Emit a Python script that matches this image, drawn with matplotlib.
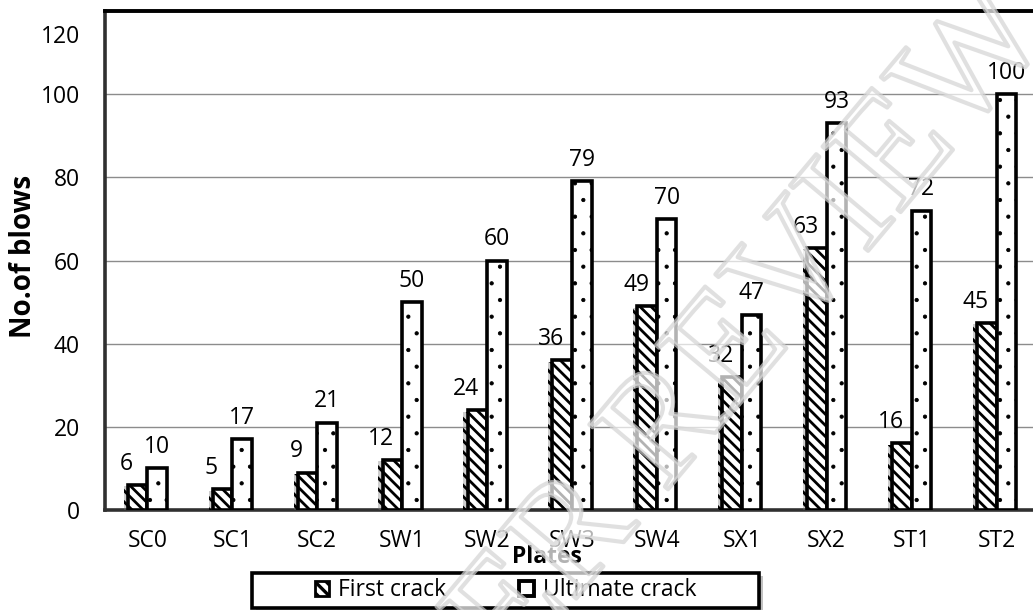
import matplotlib
matplotlib.use("Agg")
import matplotlib.pyplot as plt
import matplotlib.patheffects as pe
from matplotlib.patches import Rectangle, Patch
import matplotlib.transforms as mtransforms
import numpy as np

categories = ["SC0", "SC1", "SC2", "SW1", "SW2", "SW3", "SW4", "SX1", "SX2", "ST1", "ST2"]
first_crack = [6, 5, 9, 12, 24, 36, 49, 32, 63, 16, 45]
ultimate_crack = [10, 17, 21, 50, 60, 79, 70, 47, 93, 72, 100]
yticks = [0, 20, 40, 60, 80, 100, 120]

plt.rcParams['font.family'] = ['Open Sans', 'DejaVu Sans']
FS = 16.5

W, H = 1033, 610
fig = plt.figure(figsize=(W / 100, H / 100), dpi=100)
ax = fig.add_axes([105 / W, 1 - 510 / H, (1039 - 105) / W, (510 - 11) / H])

x = np.arange(len(categories))
bw = 0.23

shadow = [pe.SimplePatchShadow(offset=(-3, -1), shadow_rgbFace='0.45', alpha=0.35), pe.Normal()]

plt.rcParams['hatch.linewidth'] = 2.0
b1 = ax.bar(x - bw / 2, first_crack, bw, facecolor='white', edgecolor='black',
            hatch='\\\\\\', linewidth=2.6, zorder=3, label='First crack')
for p in b1:
    p.set_path_effects(shadow)

plt.rcParams['hatch.linewidth'] = 0.6
b2 = ax.bar(x + bw / 2, ultimate_crack, bw, facecolor='white', edgecolor='black',
            hatch='.', linewidth=2.6, zorder=3, label='Ultimate crack')

for xi, v in zip(x, first_crack):
    ax.annotate(str(v), xy=(xi - bw / 2, v), xytext=(-8, 11), textcoords='offset points',
                ha='center', va='baseline', fontsize=FS, zorder=5)
for xi, v in zip(x, ultimate_crack):
    ax.annotate(str(v), xy=(xi + bw / 2, v), xytext=(0, 11), textcoords='offset points',
                ha='center', va='baseline', fontsize=FS, zorder=5)

ax.set_xlim(-0.5, 10.5)
ax.set_ylim(0, 120)
ax.set_xticks(x)
ax.set_xticklabels(categories, fontsize=FS)
ax.set_yticks(yticks[:-1])
ax.set_yticklabels([str(t) for t in yticks[:-1]], fontsize=FS)
ax.tick_params(axis='both', length=0)
ax.tick_params(axis='x', pad=14)
ax.tick_params(axis='y', pad=18)
for t in yticks[1:-1]:
    ax.axhline(t, color='#8c8c8c', linewidth=1.0, zorder=1)

# top tick label (drawn slightly lower as in the reference)
off = mtransforms.offset_copy(ax.get_yaxis_transform(), fig=fig, x=-25, y=-26, units='dots')
ax.text(0, yticks[-1], str(yticks[-1]), transform=off, ha='right', va='center', fontsize=FS)

ax.spines['top'].set_linewidth(2.8)
ax.spines['top'].set_color('black')
ax.spines['left'].set_linewidth(2.6)
ax.spines['left'].set_color('#303030')
ax.spines['bottom'].set_linewidth(2.6)
ax.spines['bottom'].set_color('#303030')
ax.spines['right'].set_visible(False)

fig.text(24 / W, 1 - 256 / H, 'No.of blows', rotation=90, ha='center', va='center',
         fontsize=20, fontweight='bold')
fig.text(547 / W, 1 - 557 / H, 'Plates', ha='center', va='center', fontsize=FS, fontweight='bold')

# legend box
rect = Rectangle((252 / W, 1 - 608 / H), (759 - 252) / W, (608 - 573) / H,
                 transform=fig.transFigure, facecolor='white', edgecolor='black',
                 linewidth=2.6, zorder=10)
rect.set_path_effects([pe.SimplePatchShadow(offset=(3, -2), shadow_rgbFace='0.4', alpha=0.4), pe.Normal()])
fig.add_artist(rect)
plt.rcParams['hatch.linewidth'] = 2.4
h1 = Patch(facecolor='white', edgecolor='black', hatch='\\\\\\', linewidth=2.0)
h2 = Patch(facecolor='white', edgecolor='black', linewidth=2.8)
leg = fig.legend([h1, h2], ['First crack', 'Ultimate crack'], loc='center',
                 bbox_to_anchor=(505.5 / W, 1 - 590.5 / H), ncol=2, frameon=False,
                 fontsize=FS, handlelength=0.62, handleheight=0.62, handletextpad=0.4,
                 columnspacing=3.2, borderpad=0.2)
leg.set_zorder(11)

# watermark
wm = fig.text(695 / W, 1 - 398 / H, 'PEER REVIEW', rotation=50, ha='center', va='center',
              fontsize=112, family='Liberation Serif', color=(1, 1, 1, 0), zorder=20)
wm.set_path_effects([pe.Stroke(linewidth=3.0, foreground='#d4d4d4', alpha=0.7)])

fig.savefig('out.png', dpi=100)
